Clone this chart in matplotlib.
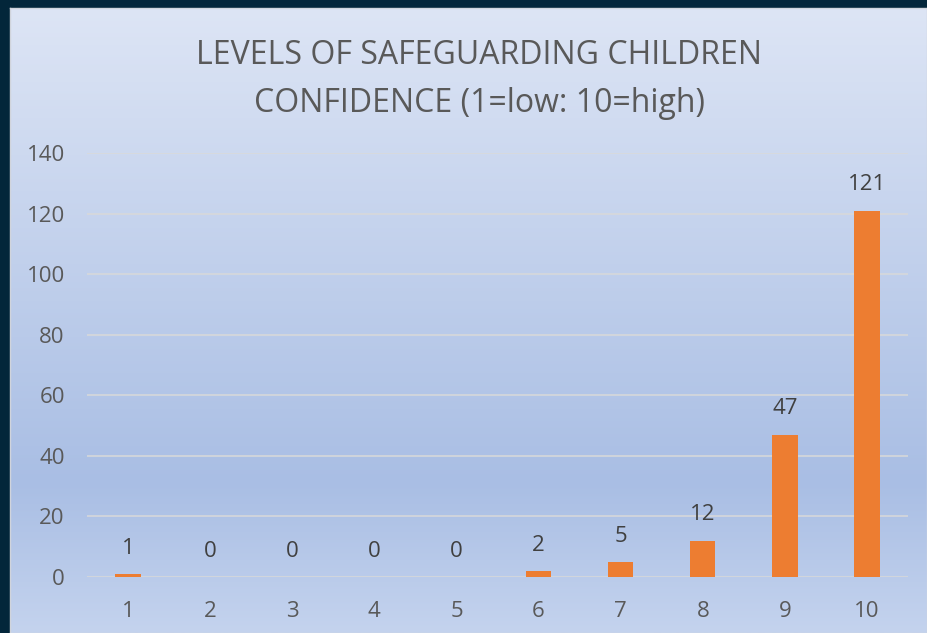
import numpy as np
import matplotlib
matplotlib.use("Agg")
import matplotlib.pyplot as plt
from matplotlib.colors import LinearSegmentedColormap

plt.rcParams['font.family'] = ['Open Sans', 'DejaVu Sans']

levels = ['1', '2', '3', '4', '5', '6', '7', '8', '9', '10']
counts = [1, 0, 0, 0, 0, 2, 5, 12, 47, 121]
title_lines = ['LEVELS OF SAFEGUARDING CHILDREN', 'CONFIDENCE (1=low: 10=high)']

W, H = 927, 633
fig = plt.figure(figsize=(W / 100, H / 100), dpi=100)
fig.patch.set_facecolor('#03263a')

# chart area with the office-style vertical gradient
bg = fig.add_axes([10 / W, 0, 1 - 10 / W, (H - 8) / H])
grad = LinearSegmentedColormap.from_list(
    'bg', [(0.0, '#dde5f5'), (0.76, '#a9bee4'), (1.0, '#c4d3ee')])
bg.imshow(np.linspace(0, 1, 256).reshape(-1, 1), aspect='auto', cmap=grad,
          extent=[0, 1, 0, 1], origin='upper')
bg.set_xlim(0, 1)
bg.set_ylim(0, 1)
for s in bg.spines.values():
    s.set_color('#d0d4dc')
    s.set_linewidth(1)
bg.set_xticks([])
bg.set_yticks([])

ax = fig.add_axes([87 / W, (H - 577) / H, 821 / W, 424 / H])
ax.patch.set_alpha(0)
x = np.arange(len(levels))
bars = ax.bar(x, counts, width=0.31, color='#ed7d31', zorder=3)
ax.set_xlim(-0.5, len(levels) - 0.5)
ax.set_ylim(0, 140)
ax.set_yticks(range(0, 141, 20))
ax.set_xticks(x)
ax.set_xticklabels(levels)
ax.grid(axis='y', color='#d9d9d9', linewidth=1.1, zorder=0)
ax.set_axisbelow(True)
for s in ax.spines.values():
    s.set_visible(False)
ax.tick_params(length=0, labelsize=16, labelcolor='#595959')
ax.tick_params(axis='y', pad=16)
ax.tick_params(axis='x', pad=17)

for b, v in zip(bars, counts):
    ax.annotate(str(v), (b.get_x() + b.get_width() / 2, v),
                xytext=(0, 11), textcoords='offset points',
                ha='center', va='bottom', fontsize=16, color='#404040')

fig.text(479 / W, 1 - 64 / H, title_lines[0], ha='center', va='baseline',
         fontsize=23, color='#595959')
fig.text(479 / W, 1 - 112 / H, title_lines[1], ha='center', va='baseline',
         fontsize=23, color='#595959')

fig.savefig('out.png', dpi=100, facecolor=fig.get_facecolor())
